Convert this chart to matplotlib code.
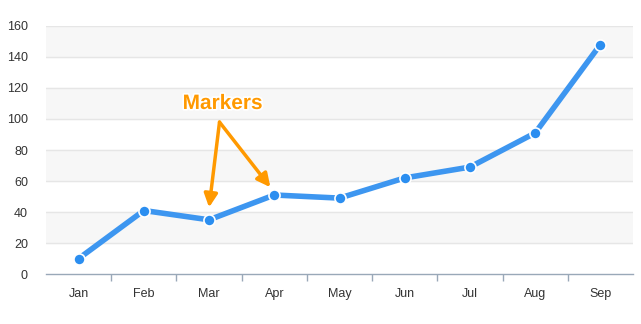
import matplotlib.pyplot as plt
import matplotlib.patheffects as pe

# Datos del grafico
meses = ["Jan", "Feb", "Mar", "Apr", "May", "Jun", "Jul", "Aug", "Sep"]
valores = [10, 41, 35, 51, 49, 62, 69, 91, 148]
yticks = [0, 20, 40, 60, 80, 100, 120, 140, 160]

plt.rcParams["font.family"] = ["Liberation Sans", "DejaVu Sans"]

fig = plt.figure(figsize=(6.41, 3.24), dpi=100)
ax = fig.add_axes([0.0718, 0.154, 0.9157, 0.766])

x = list(range(len(meses)))

# Bandas alternadas
for lo in [20, 60, 100, 140]:
    ax.axhspan(lo, lo + 20, color="#f7f7f7", zorder=0)
for t in yticks[1:]:
    ax.axhline(t, color="#e6e6e6", linewidth=1, zorder=1)

# Linea con marcadores
ax.plot(x, valores, color="#3d96f0", linewidth=4, zorder=3,
        marker="o", markersize=8, markerfacecolor="#2b8ef0",
        markeredgecolor="white", markeredgewidth=1.2, solid_capstyle="round")

# Anotacion
txt = ax.text(2.21, 110, "Markers", color="#ff9900", fontsize=15,
              fontweight="bold", ha="center", va="center", zorder=5)
txt.set_path_effects([pe.withStroke(linewidth=2.5, foreground="white")])
for fin in [(2.0, 43), (2.94, 56)]:
    ax.annotate("", xy=fin, xytext=(2.16, 98),
                arrowprops=dict(arrowstyle="-|>,head_length=0.8,head_width=0.4",
                                color="#ff9900", lw=2.5, shrinkA=0, shrinkB=0),
                zorder=5)

# Ejes
ax.set_xlim(-0.5, len(meses) - 0.5)
ax.set_ylim(0, 160)
ax.set_xticks(x)
ax.set_xticklabels(meses)
ax.set_xticks([i + 0.5 for i in range(len(meses) - 1)], minor=True)
ax.set_yticks(yticks)
ax.tick_params(axis="x", which="major", length=0, pad=10, labelsize=9, labelcolor="#333333")
ax.tick_params(axis="x", which="minor", length=5, color="#99a8b8", width=1)
ax.tick_params(axis="y", length=0, pad=13, labelsize=9, labelcolor="#333333")
for lab in ax.get_yticklabels():
    lab.set_horizontalalignment("right")

for s in ["top", "right", "left"]:
    ax.spines[s].set_visible(False)
ax.spines["bottom"].set_color("#99a8b8")
ax.spines["bottom"].set_linewidth(1)

fig.savefig("out.png", dpi=100)
